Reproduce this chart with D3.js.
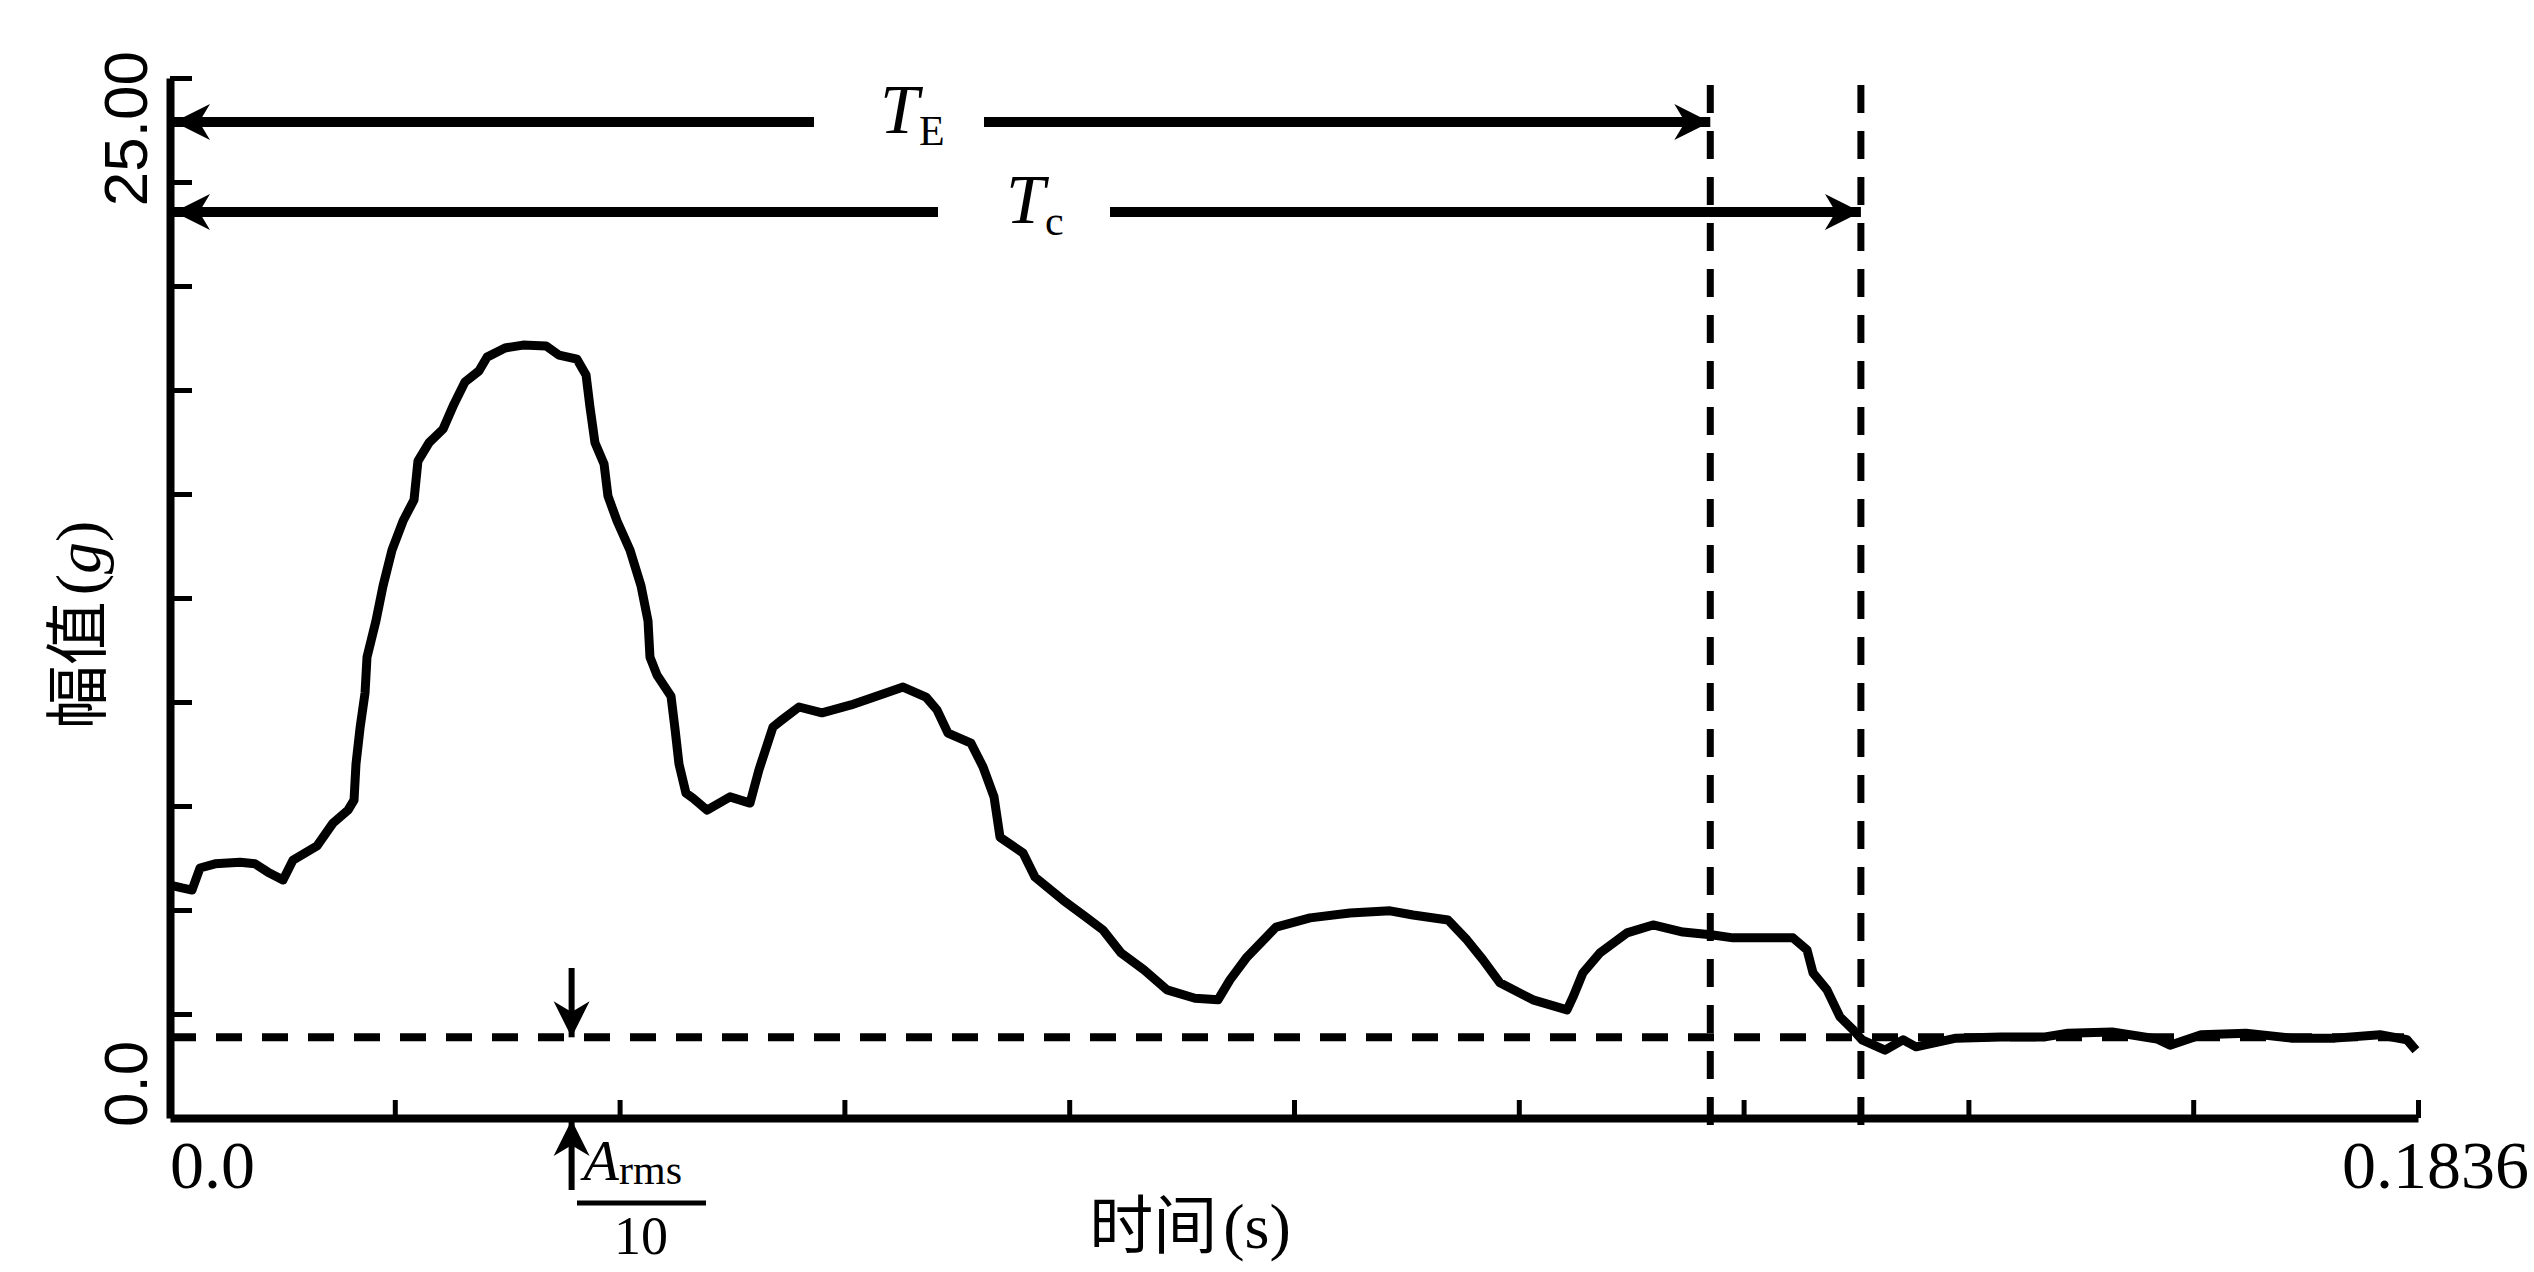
<html>
  <head>
    <meta charset="utf-8">
    <title>幅值-时间</title>
    <style>
      body { margin: 0; background: #fff; }
    </style>
  </head>
  <body>
    <script src="https://d3js.org/d3.v7.min.js"></script>
    <script>
      (function() {
        var WIDTH = 2534;
        var HEIGHT = 1272;

        // Signal trace: time (s) and amplitude (g)
        var timeS = [0, 0.00098, 0.0018, 0.00245, 0.00368, 0.00572, 0.00694, 0.008, 0.00923, 0.01005,
          0.01201, 0.01331, 0.01454, 0.01503, 0.01519, 0.01552, 0.01593, 0.01609, 0.01682, 0.0174,
          0.01813, 0.01903, 0.01993, 0.02025, 0.02115, 0.0223, 0.02319, 0.02409, 0.02524, 0.02589,
          0.02736, 0.02883, 0.03071, 0.03177, 0.03324, 0.03398, 0.0343, 0.03471, 0.03545, 0.03577,
          0.03651, 0.03757, 0.03847, 0.03904, 0.0392, 0.03977, 0.04092, 0.04124, 0.04157, 0.04214,
          0.04271, 0.04386, 0.04574, 0.04737, 0.0481, 0.04925, 0.04998, 0.05137, 0.05325, 0.05562,
          0.05799, 0.05987, 0.06174, 0.06264, 0.06354, 0.06542, 0.0664, 0.0673, 0.06779, 0.06967,
          0.07065, 0.07293, 0.07481, 0.0762, 0.07767, 0.07955, 0.08143, 0.08371, 0.08559, 0.08657,
          0.08796, 0.09033, 0.09311, 0.09637, 0.09964, 0.10152, 0.10438, 0.10593, 0.10724, 0.10862,
          0.11132, 0.1141, 0.11459, 0.1154, 0.11679, 0.119, 0.12112, 0.12357, 0.12602, 0.12765,
          0.13255, 0.1337, 0.13419, 0.13533, 0.13639, 0.13746, 0.13819, 0.14007, 0.14154, 0.1426,
          0.14587, 0.14954, 0.15314, 0.15502, 0.15861, 0.16228, 0.16335, 0.16588, 0.16955, 0.17323,
          0.17682, 0.18049, 0.1827, 0.18343];
        var amplitudeG = [5.60, 5.53, 5.48, 6.01, 6.11, 6.15, 6.11, 5.91, 5.72, 6.20,
          6.54, 7.09, 7.40, 7.64, 8.51, 9.37, 10.22, 11.08, 11.95, 12.79,
          13.65, 14.35, 14.86, 15.79, 16.23, 16.56, 17.16, 17.69, 17.96, 18.29,
          18.51, 18.58, 18.56, 18.34, 18.24, 17.86, 17.09, 16.23, 15.72, 14.95,
          14.35, 13.65, 12.79, 11.95, 11.08, 10.65, 10.14, 9.37, 8.51, 7.81,
          7.69, 7.40, 7.72, 7.57, 8.37, 9.40, 9.57, 9.88, 9.74, 9.93,
          10.17, 10.36, 10.12, 9.81, 9.25, 9.01, 8.44, 7.72, 6.75, 6.37,
          5.79, 5.24, 4.83, 4.52, 3.97, 3.56, 3.08, 2.88, 2.84, 3.32,
          3.87, 4.59, 4.81, 4.93, 4.98, 4.88, 4.76, 4.28, 3.80, 3.25,
          2.84, 2.60, 2.91, 3.49, 3.97, 4.45, 4.64, 4.47, 4.40, 4.33,
          4.33, 4.04, 3.49, 3.08, 2.43, 2.12, 1.88, 1.63, 1.88, 1.71,
          1.92, 1.95, 1.95, 2.04, 2.07, 1.90, 1.75, 2.00, 2.04, 1.92,
          1.92, 2.00, 1.88, 1.63];

        // Axis ticks
        var xTicks = [0.01836, 0.03672, 0.05508, 0.07344, 0.0918, 0.11016, 0.12852, 0.14688, 0.16524, 0.1836];
        var yTicks = [2.5, 5, 7.5, 10, 12.5, 15, 17.5, 20, 22.5, 25];
        var xTickLabels = ['0.0', '0.1836'];
        var yTickLabels = ['0.0', '25.00'];

        // Annotation values
        var durationT = [0.1258, 0.1381];     // T_E, T_c
        var durationLevel = [23.94, 21.78];   // heights of the two span arrows
        var armsLevel = [1.94];               // A_rms / 10 threshold
        var armsMarkT = [0.0328];             // where the A_rms/10 marker sits

        var svg = d3.select('body')
          .append('svg')
          .attr('width', WIDTH)
          .attr('height', HEIGHT);

        svg.append('rect')
          .attr('width', WIDTH)
          .attr('height', HEIGHT)
          .attr('fill', '#fff');

        var x = d3.scaleLinear().domain([0, 0.1836]).range([170, 2418]);
        var y = d3.scaleLinear().domain([0, 25]).range([1118, 78]);

        // Arrow heads
        var defs = svg.append('defs');
        defs.append('marker')
          .attr('id', 'head')
          .attr('viewBox', '0 0 10 10')
          .attr('refX', 10)
          .attr('refY', 5)
          .attr('markerUnits', 'userSpaceOnUse')
          .attr('markerWidth', 36)
          .attr('markerHeight', 44)
          .attr('orient', 'auto-start-reverse')
          .append('path')
          .attr('d', 'M0,0 L10,5 L0,10 L3,5 Z')
          .attr('fill', '#000');

        // Axes
        var xAxis = d3.axisBottom(x)
          .tickValues(xTicks)
          .tickSizeInner(-18)
          .tickSizeOuter(0)
          .tickFormat('');
        var yAxis = d3.axisLeft(y)
          .tickValues(yTicks)
          .tickSizeInner(-22)
          .tickSizeOuter(0)
          .tickFormat('');

        var gx = svg.append('g')
          .attr('transform', 'translate(0,' + y(0) + ')')
          .call(xAxis);
        var gy = svg.append('g')
          .attr('transform', 'translate(' + x(0) + ',0)')
          .call(yAxis);
        [gx, gy].forEach(function(g) {
          g.select('.domain').attr('stroke', '#000').attr('stroke-width', 8);
          g.selectAll('.tick line').attr('stroke', '#000').attr('stroke-width', 5);
        });

        // x tick labels
        svg.append('text')
          .text(xTickLabels[0])
          .attr('x', x(0))
          .attr('y', 1188)
          .attr('font-family', 'Liberation Serif')
          .attr('font-size', 68)
          .attr('text-anchor', 'start');
        svg.append('text')
          .text(xTickLabels[1])
          .attr('x', 2529)
          .attr('y', 1188)
          .attr('font-family', 'Liberation Serif')
          .attr('font-size', 68)
          .attr('text-anchor', 'end');

        // y tick labels (rotated)
        svg.append('text')
          .text(yTickLabels[0])
          .attr('transform', 'translate(147,' + (y(0) + 9) + ') rotate(-90)')
          .attr('font-family', 'Liberation Sans')
          .attr('font-size', 62)
          .attr('text-anchor', 'start');
        svg.append('text')
          .text(yTickLabels[1])
          .attr('transform', 'translate(147,51) rotate(-90)')
          .attr('font-family', 'Liberation Sans')
          .attr('font-size', 62)
          .attr('text-anchor', 'end');

        // Axis titles
        var yTitle = svg.append('text')
          .attr('transform', 'translate(100,625) rotate(-90)')
          .attr('font-family', 'Noto Sans CJK SC')
          .attr('font-size', 64)
          .attr('text-anchor', 'middle');
        yTitle.append('tspan').text('幅值');
        yTitle.append('tspan').attr('font-family', 'Liberation Serif').attr('dx', 6).text('(');
        yTitle.append('tspan').attr('font-family', 'Liberation Serif').attr('font-style', 'italic').text('g');
        yTitle.append('tspan').attr('font-family', 'Liberation Serif').text(')');

        var xTitle = svg.append('text')
          .attr('x', 1190)
          .attr('y', 1248)
          .attr('font-family', 'Noto Sans CJK SC')
          .attr('font-size', 64)
          .attr('text-anchor', 'middle');
        xTitle.append('tspan').text('时间');
        xTitle.append('tspan').attr('font-family', 'Liberation Serif').attr('dx', 6).text('(s)');

        // A_rms/10 threshold line
        svg.append('line')
          .attr('x1', x(0))
          .attr('x2', x(0.1836))
          .attr('y1', y(armsLevel[0]))
          .attr('y2', y(armsLevel[0]))
          .attr('stroke', '#000')
          .attr('stroke-width', 8)
          .attr('stroke-dasharray', '26,20');

        // Vertical dashed lines at T_E and T_c
        svg.selectAll('.tline')
          .data(durationT)
          .enter()
          .append('line')
          .attr('class', 'tline')
          .attr('x1', function(d) { return x(d); })
          .attr('x2', function(d) { return x(d); })
          .attr('y1', 85)
          .attr('y2', y(0) + 10)
          .attr('stroke', '#000')
          .attr('stroke-width', 7)
          .attr('stroke-dasharray', '28,18');

        // Signal
        var line = d3.line()
          .x(function(d, i) { return x(timeS[i]); })
          .y(function(d) { return y(d); });
        svg.append('path')
          .datum(amplitudeG)
          .attr('d', line)
          .attr('fill', 'none')
          .attr('stroke', '#000')
          .attr('stroke-width', 9)
          .attr('stroke-linejoin', 'round');

        // Span arrows for T_E and T_c, split around their labels
        var gaps = [[814, 984], [938, 1110]];
        var spanNames = [['T', 'E'], ['T', 'c']];
        var labelX = [880, 1006];
        durationT.forEach(function(t, i) {
          var yy = y(durationLevel[i]);
          svg.append('line')
            .attr('x1', gaps[i][0]).attr('x2', x(0) + 4)
            .attr('y1', yy).attr('y2', yy)
            .attr('stroke', '#000').attr('stroke-width', 10)
            .attr('marker-end', 'url(#head)');
          svg.append('line')
            .attr('x1', gaps[i][1]).attr('x2', x(t))
            .attr('y1', yy).attr('y2', yy)
            .attr('stroke', '#000').attr('stroke-width', 10)
            .attr('marker-end', 'url(#head)');
          var lbl = svg.append('text')
            .attr('x', labelX[i])
            .attr('y', yy + 11)
            .attr('font-family', 'Liberation Serif')
            .attr('font-size', 70);
          lbl.append('tspan').attr('font-style', 'italic').text(spanNames[i][0]);
          lbl.append('tspan').attr('font-size', 42).attr('dy', 12).text(spanNames[i][1]);
        });

        // A_rms/10 marker arrows
        var ax = x(armsMarkT[0]);
        svg.append('line')
          .attr('x1', ax).attr('x2', ax)
          .attr('y1', 968).attr('y2', y(armsLevel[0]))
          .attr('stroke', '#000').attr('stroke-width', 6)
          .attr('marker-end', 'url(#head)');
        svg.append('line')
          .attr('x1', ax).attr('x2', ax)
          .attr('y1', 1190).attr('y2', y(0) + 2)
          .attr('stroke', '#000').attr('stroke-width', 6)
          .attr('marker-end', 'url(#head)');

        var arms = svg.append('text')
          .attr('x', ax + 12)
          .attr('y', 1180)
          .attr('font-family', 'Liberation Serif')
          .attr('font-size', 58);
        arms.append('tspan').attr('font-style', 'italic').text('A');
        arms.append('tspan').attr('font-size', 42).attr('dy', 4).text('rms');

        svg.append('line')
          .attr('x1', 577).attr('x2', 706)
          .attr('y1', 1203).attr('y2', 1203)
          .attr('stroke', '#000').attr('stroke-width', 5);

        svg.append('text')
          .text('10')
          .attr('x', 641)
          .attr('y', 1254)
          .attr('font-family', 'Liberation Serif')
          .attr('font-size', 54)
          .attr('text-anchor', 'middle');
      })();
    </script>
  </body>
</html>
